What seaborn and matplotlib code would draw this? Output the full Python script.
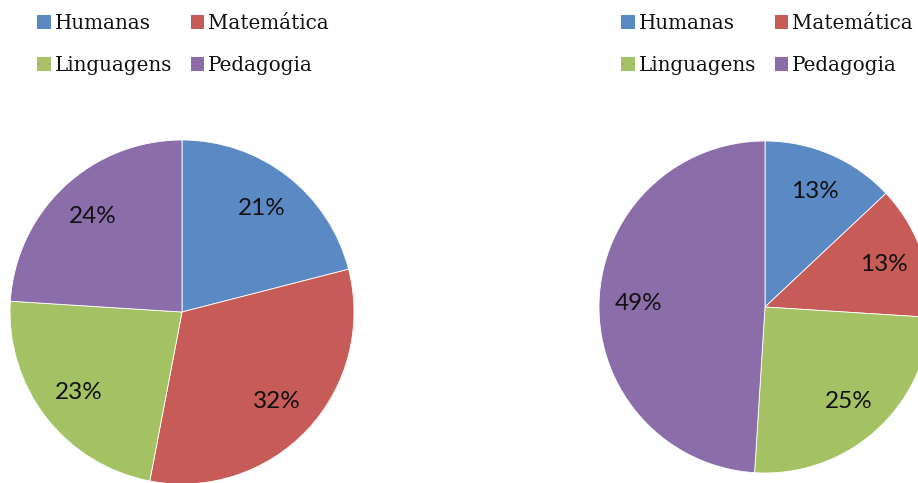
import matplotlib
matplotlib.use("Agg")
import matplotlib.pyplot as plt
import seaborn as sns
from matplotlib.patches import Patch

# data
categories = ["Humanas", "Matemática", "Linguagens", "Pedagogia"]
left_values = [21, 32, 23, 24]
right_values = [13, 13, 25, 49]
colors = ["#5A89C4", "#C65B57", "#A4C263", "#8A6DA9"]

sns.set_theme(style="white")
plt.rcParams["font.family"] = ["Lato", "DejaVu Sans"]

fig = plt.figure(figsize=(9.18, 4.83), dpi=100)
W, H = 918, 483


def pie_axes(cx, cy, r):
    # pixel centre (top-origin) and radius -> axes box
    return fig.add_axes([(cx - r) / W, (H - cy - r) / H, 2 * r / W, 2 * r / H])


def draw_pie(ax, values):
    ax.pie(values, colors=sns.color_palette(colors), startangle=90, counterclock=False,
           autopct="%d%%", pctdistance=0.76, radius=1,
           wedgeprops=dict(linewidth=0.6, edgecolor="white"),
           textprops=dict(fontsize=17.5, color="#111111"))
    ax.set_xlim(-1.0, 1.0)
    ax.set_ylim(-1.0, 1.0)
    ax.set_aspect("equal")
    ax.axis("off")


ax1 = pie_axes(182, 312, 172)
draw_pie(ax1, left_values)
ax2 = pie_axes(765, 307, 166)
draw_pie(ax2, right_values)

# legend fills column-wise, so reorder to get Humanas/Matemática on the first row
order = [0, 2, 1, 3]
handles = [Patch(facecolor=colors[i], edgecolor="none") for i in order]
labels = [categories[i] for i in order]
for x0 in (37, 621):
    fig.legend(handles, labels, ncol=2, loc="upper left",
               bbox_to_anchor=(x0 / W, 1 - 14 / H), frameon=False,
               prop=dict(family="DejaVu Serif", size=14.3),
               labelcolor="#111111",
               handlelength=0.68, handleheight=0.68, handletextpad=0.2,
               columnspacing=0.95, labelspacing=1.15, borderpad=0, borderaxespad=0)

fig.savefig("out.png", dpi=100)
